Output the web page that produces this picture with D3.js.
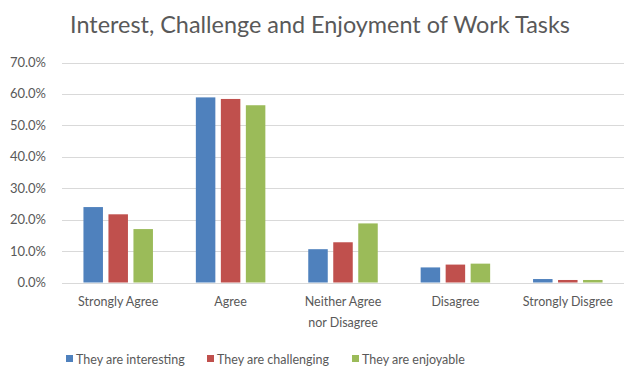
<!DOCTYPE html>
<html><head><meta charset="utf-8">
<script src="https://cdn.jsdelivr.net/npm/d3@7"></script>
<style>body{margin:0;background:#fff}svg{display:block}text{font-family:Lato,"Open Sans",sans-serif}</style>
</head><body><svg id="c" width="640" height="382"></svg>
<script>
const categories = ["Strongly Agree", "Agree", "Neither Agree\nnor Disagree", "Disagree", "Strongly Disgree"];
const seriesNames = ["They are interesting", "They are challenging", "They are enjoyable"];
const interesting = [24.0, 58.9, 10.6, 4.8, 1.1];
const challenging = [21.7, 58.4, 12.8, 5.7, 0.8];
const enjoyable = [17.0, 56.4, 18.8, 6.0, 0.8];
const yTicks = [0, 10, 20, 30, 40, 50, 60, 70];
const colors = ["#4F81BD", "#C0504D", "#9BBB59"];
const title = "Interest, Challenge and Enjoyment of Work Tasks";

const series = [interesting, challenging, enjoyable];
const svg = d3.select("#c");
const m = {left: 62, right: 624, top: 62.5, bottom: 282.5};
const x = d3.scaleBand().domain(categories).range([m.left, m.right]).paddingInner(0).paddingOuter(0);
const y = d3.scaleLinear().domain([0, 70]).range([m.bottom, m.top]);
const barW = 19.5, step = 25;

// gridlines
svg.append("g").selectAll("line").data(yTicks).join("line")
  .attr("x1", m.left).attr("x2", m.right)
  .attr("y1", d => Math.round(y(d)) + 0.5).attr("y2", d => Math.round(y(d)) + 0.5)
  .attr("stroke", "#D9D9D9").attr("stroke-width", 1);

// y labels
svg.append("g").selectAll("text").data(yTicks).join("text")
  .attr("x", 46).attr("y", d => y(d) + 4.5).attr("text-anchor", "end")
  .attr("fill", "#595959").attr("font-size", 13).text(d => d3.format(".1f")(d) + "%");

// bars
const groups = svg.append("g").selectAll("g").data(series).join("g").attr("fill", (d, i) => colors[i]);
groups.each(function(vals, si) {
  d3.select(this).selectAll("rect").data(vals).join("rect")
    .attr("x", (v, ci) => x(categories[ci]) + x.bandwidth()/2 - (3*barW + 2*(step-barW))/2 + si*step)
    .attr("width", barW)
    .attr("y", v => y(v)).attr("height", v => y(0) - y(v));
});

// category labels
const cl = svg.append("g").selectAll("text").data(categories).join("text")
  .attr("x", d => x(d) + x.bandwidth()/2).attr("y", 306).attr("text-anchor", "middle")
  .attr("fill", "#595959").attr("font-size", 12.5);
cl.each(function(d) {
  d.split("\n").forEach((line, i) => d3.select(this).append("tspan").attr("x", x(d) + x.bandwidth()/2).attr("dy", i ? 21 : 0).text(line));
});

// legend
const legX = [66, 207, 352];
const lg = svg.append("g").selectAll("g").data(seriesNames).join("g").attr("transform", (d, i) => `translate(${legX[i]},0)`);
lg.append("rect").attr("x", 0).attr("y", 355).attr("width", 7).attr("height", 7).attr("fill", (d, i) => colors[i]);
lg.append("text").attr("x", 10).attr("y", 364).attr("fill", "#595959").attr("font-size", 12.5).text(d => d);

// title
svg.append("text").attr("x", 320).attr("y", 33).attr("text-anchor", "middle")
  .attr("fill", "#595959").attr("font-size", 23.4).text(title);
</script></body></html>
